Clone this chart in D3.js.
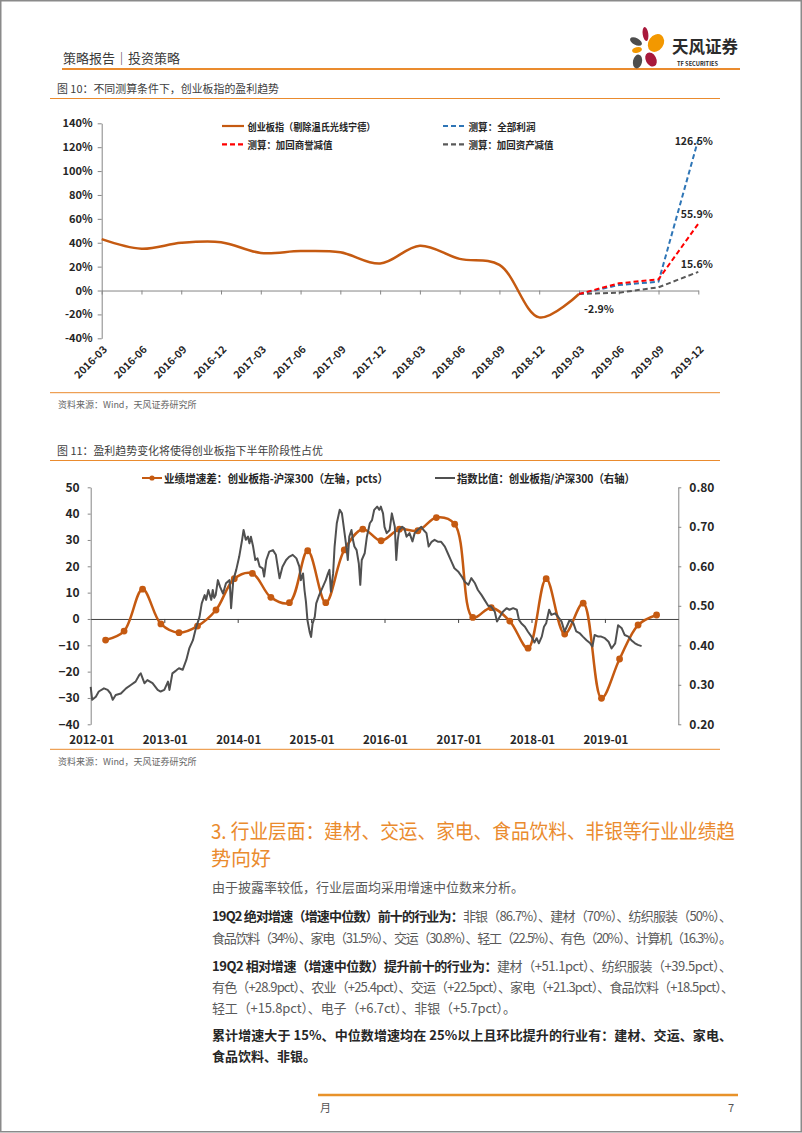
<!DOCTYPE html>
<html><head><meta charset="utf-8">
<script src="https://cdn.jsdelivr.net/npm/d3@7"></script>
<style>
body{margin:0;background:#fff;}
svg{display:block;font-family:"Noto Sans CJK SC","Noto Sans",sans-serif;}
</style></head><body>
<svg id="page" width="802" height="1133"></svg>
<script>
// ================= DATA : Figure 10 =================
const fig10Categories = ['2016-03','2016-06','2016-09','2016-12','2017-03','2017-06','2017-09','2017-12',
  '2018-03','2018-06','2018-09','2018-12','2019-03','2019-06','2019-09','2019-12'];
const fig10Actual = [43, 35, 40, 40.5, 31.5, 33, 32, 22.6, 37.5, 26.5, 21.5, -22.5, -2.9];
const fig10DashCats = ['2019-03','2019-06','2019-09','2019-12'];
const fig10FullProfit = [-2.9, 4.6, 7.4, 126.5];
const fig10Goodwill   = [-2.9, 6.0, 9.4, 55.9];
const fig10Asset      = [-2.9, -1.8, 2.7, 15.6];
const fig10YTicks = [-40,-20,0,20,40,60,80,100,120,140];
const fig10SeriesNames = ['创业板指（剔除温氏光线宁德）','测算：全部利润','测算：加回商誉减值','测算：加回资产减值'];

// ================= DATA : Figure 11 =================
const fig11Quarters = ['2012-03','2012-06','2012-09','2012-12','2013-03','2013-06','2013-09','2013-12',
  '2014-03','2014-06','2014-09','2014-12','2015-03','2015-06','2015-09','2015-12',
  '2016-03','2016-06','2016-09','2016-12','2017-03','2017-06','2017-09','2017-12',
  '2018-03','2018-06','2018-09','2018-12','2019-03','2019-06','2019-09'];
const fig11Spread = [-8.0,-4.6,11.3,-1.9,-5.2,-2.7,3.4,15.3,
  17.3,8.2,6.2,25.9,6.2,26.2,34.1,29.7,
  34.1,33.5,38.5,36.0,0.6,4.3,-0.8,-11.1,
  15.3,-5.7,6.0,-30.1,-15.2,-2.3,1.5];
// index ratio [decimal year, ratio]
const fig11Ratio = [
 [2012.00,0.295],[2012.02,0.262],[2012.07,0.270],[2012.11,0.283],[2012.18,0.291],[2012.23,0.287],[2012.27,0.278],
 [2012.30,0.262],[2012.34,0.274],[2012.41,0.278],[2012.48,0.291],[2012.55,0.300],[2012.61,0.308],[2012.66,0.325],
 [2012.68,0.329],[2012.73,0.304],[2012.77,0.312],[2012.84,0.304],[2012.91,0.287],[2012.95,0.283],[2013.00,0.287],
 [2013.05,0.308],[2013.07,0.287],[2013.11,0.329],[2013.16,0.336],[2013.20,0.342],[2013.25,0.338],[2013.30,0.363],
 [2013.34,0.392],[2013.39,0.413],[2013.43,0.443],[2013.48,0.472],[2013.51,0.506],[2013.55,0.527],[2013.57,0.515],
 [2013.60,0.540],[2013.64,0.515],[2013.66,0.540],[2013.68,0.520],[2013.70,0.527],[2013.73,0.565],[2013.76,0.548],
 [2013.80,0.531],[2013.84,0.557],[2013.89,0.565],[2013.91,0.494],[2013.94,0.565],[2013.98,0.591],[2014.02,0.624],
 [2014.06,0.667],[2014.08,0.692],[2014.11,0.667],[2014.14,0.675],[2014.16,0.658],[2014.18,0.675],[2014.21,0.650],
 [2014.24,0.616],[2014.27,0.620],[2014.30,0.599],[2014.34,0.595],[2014.36,0.574],[2014.39,0.616],[2014.43,0.637],
 [2014.48,0.641],[2014.52,0.629],[2014.57,0.570],[2014.61,0.599],[2014.66,0.616],[2014.70,0.624],[2014.75,0.629],
 [2014.80,0.620],[2014.84,0.599],[2014.86,0.565],[2014.89,0.582],[2014.91,0.540],[2014.93,0.510],[2014.95,0.464],
 [2014.98,0.434],[2015.00,0.421],[2015.02,0.455],[2015.05,0.472],[2015.07,0.506],[2015.11,0.527],[2015.16,0.548],
 [2015.20,0.565],[2015.23,0.582],[2015.25,0.591],[2015.27,0.536],[2015.30,0.582],[2015.32,0.650],[2015.35,0.709],
 [2015.39,0.743],[2015.42,0.734],[2015.45,0.692],[2015.48,0.650],[2015.50,0.616],[2015.52,0.675],[2015.55,0.692],
 [2015.57,0.667],[2015.59,0.650],[2015.62,0.641],[2015.65,0.607],[2015.67,0.553],[2015.69,0.616],[2015.73,0.633],
 [2015.76,0.675],[2015.80,0.709],[2015.83,0.717],[2015.86,0.743],[2015.90,0.751],[2015.93,0.743],[2015.95,0.751],
 [2015.98,0.734],[2016.00,0.700],[2016.03,0.684],[2016.07,0.692],[2016.10,0.734],[2016.14,0.700],[2016.16,0.616],
 [2016.18,0.667],[2016.20,0.692],[2016.24,0.700],[2016.27,0.696],[2016.30,0.675],[2016.34,0.684],[2016.38,0.663],
 [2016.41,0.684],[2016.45,0.692],[2016.50,0.700],[2016.53,0.692],[2016.57,0.684],[2016.60,0.650],[2016.64,0.662],
 [2016.68,0.667],[2016.73,0.662],[2016.77,0.662],[2016.82,0.650],[2016.86,0.633],[2016.91,0.612],[2016.95,0.595],
 [2017.00,0.587],[2017.05,0.574],[2017.09,0.561],[2017.14,0.553],[2017.18,0.570],[2017.23,0.557],[2017.27,0.540],
 [2017.32,0.527],[2017.36,0.515],[2017.41,0.500],[2017.45,0.498],[2017.50,0.485],[2017.53,0.460],[2017.57,0.473],
 [2017.61,0.485],[2017.66,0.494],[2017.70,0.490],[2017.75,0.494],[2017.80,0.490],[2017.83,0.464],[2017.86,0.456],
 [2017.91,0.447],[2017.95,0.435],[2018.00,0.422],[2018.04,0.407],[2018.07,0.418],[2018.10,0.405],[2018.14,0.422],
 [2018.17,0.447],[2018.20,0.456],[2018.24,0.490],[2018.27,0.477],[2018.32,0.481],[2018.36,0.473],[2018.41,0.460],
 [2018.45,0.435],[2018.48,0.447],[2018.52,0.464],[2018.57,0.456],[2018.61,0.435],[2018.66,0.430],[2018.70,0.422],
 [2018.75,0.413],[2018.80,0.405],[2018.83,0.397],[2018.86,0.426],[2018.91,0.422],[2018.95,0.422],[2019.00,0.418],
 [2019.05,0.409],[2019.09,0.392],[2019.14,0.405],[2019.18,0.451],[2019.23,0.443],[2019.27,0.426],[2019.32,0.422],
 [2019.36,0.413],[2019.41,0.405],[2019.45,0.401],[2019.50,0.398]
];
const fig11LeftTicks = [-40,-30,-20,-10,0,10,20,30,40,50];
const fig11RightTicks = [0.2,0.3,0.4,0.5,0.6,0.7,0.8];
const fig11XTicks = ['2012-01','2013-01','2014-01','2015-01','2016-01','2017-01','2018-01','2019-01'];
const fig11SeriesNames = ['业绩增速差：创业板指-沪深300（左轴，pcts）','指数比值：创业板指/沪深300（右轴）'];

// ================= STYLE =================
const FONT = '"Noto Sans CJK SC","Noto Sans",sans-serif';
const ACCENT = '#EA8B2E';
const AXIS = '#868686';
const TXT = '#262626';
const ORANGE = '#C55A11';
const GRAY = '#505050';

const svg = d3.select('#page');
svg.append('rect').attr('width',802).attr('height',1133).attr('fill','#fff');
svg.append('rect').attr('x',0.75).attr('y',0.75).attr('width',800.5).attr('height',1131).attr('fill','none')
  .attr('stroke','#8a8a8a').attr('stroke-width',1.5);

function hline(x1,x2,y,color,w){svg.append('line').attr('x1',x1).attr('x2',x2).attr('y1',y).attr('y2',y).attr('stroke',color).attr('stroke-width',w);}
function txt(x,y,s,size,fill,opts={}){
  const t=svg.append('text').attr('x',x).attr('y',y).attr('font-size',size).attr('fill',fill).text(s)
    .attr('font-family',FONT);
  if(opts.weight) t.attr('font-weight',opts.weight);
  if(opts.anchor) t.attr('text-anchor',opts.anchor);
  if(opts.len) t.attr('textLength',opts.len).attr('lengthAdjust','spacingAndGlyphs');
  t.attr('dominant-baseline','central');
  return t;
}

// ---------- header ----------
txt(63,57,'策略报告｜投资策略',13,'#3a3a3a');
hline(62,740,69,ACCENT,2);
// logo
const logo = svg.append('g');
const petals = [
  [645.5,34,2.8,7,-8,'#A8193C'],
  [636,41.5,6.5,3.4,28,'#4D4D4D'],
  [656,43,7.5,9.5,35,'#F39800'],
  [637,50,5,2.8,-15,'#F39800'],
  [637.5,61.5,4.5,7,12,'#4D4D4D'],
  [651,59.5,5.2,7.5,-28,'#A8193C']
];
petals.forEach(p=>logo.append('ellipse').attr('cx',p[0]).attr('cy',p[1]).attr('rx',p[2]).attr('ry',p[3])
  .attr('transform',`rotate(${p[4]},${p[0]},${p[1]})`).attr('fill',p[5]));
txt(672,45.5,'天风证券',17,'#2b2b2b',{weight:'bold',len:66});
txt(677,63.5,'TF SECURITIES',6,'#2b2b2b',{weight:'bold',len:41});

// ---------- Figure 10 caption ----------
txt(57,88,'图 10：不同测算条件下，创业板指的盈利趋势',11,'#404040',{len:222});
hline(50,720,98.5,ACCENT,1);

// ---------- Figure 10 chart ----------
const x1 = d3.scalePoint().domain(fig10Categories).range([101.7,698.3]);
const y1 = d3.scaleLinear().domain([-40,140]).range([338.3,123.3]);
const g1 = svg.append('g');
g1.append('g').attr('transform','translate(101.7,0)')
  .call(d3.axisLeft(y1).tickValues(fig10YTicks).tickSize(4).tickSizeOuter(0).tickFormat(d=>d+'%'))
  .call(g=>{g.select('.domain').attr('stroke',AXIS);g.selectAll('.tick line').attr('stroke',AXIS);
    g.selectAll('text').attr('font-size',11).attr('font-weight','bold').attr('fill',TXT).attr('font-family',FONT).attr('x',-9);});
g1.append('g').attr('transform',`translate(0,${y1(0)})`)
  .call(d3.axisBottom(x1).tickSize(4).tickSizeOuter(0).tickFormat(''))
  .call(g=>{g.select('.domain').attr('stroke',AXIS);g.selectAll('.tick line').attr('stroke',AXIS);});
fig10Categories.forEach(c=>{
  g1.append('text').attr('transform',`translate(${x1(c)+3},${347}) rotate(-45)`).attr('text-anchor','end')
    .attr('dominant-baseline','central').attr('font-size',10.5).attr('font-weight','bold').attr('fill',TXT)
    .attr('font-family',FONT).text(c);
});
const actualPts = fig10Actual.map((v,i)=>[x1(fig10Categories[i]),y1(v)]);
g1.append('path').attr('d',d3.line().curve(d3.curveCatmullRom.alpha(0.5))(actualPts))
  .attr('fill','none').attr('stroke',ORANGE).attr('stroke-width',2.5);
const dashSeries = [[fig10Asset,'#595959'],[fig10FullProfit,'#2E75B6'],[fig10Goodwill,'#FF0000']];
dashSeries.forEach(([vals,col])=>{
  g1.append('path').attr('d',d3.line()(vals.map((v,i)=>[x1(fig10DashCats[i]),y1(v)])))
    .attr('fill','none').attr('stroke',col).attr('stroke-width',2).attr('stroke-dasharray','5,3');
});
// data labels
const lab = (x,y,s)=>g1.append('text').attr('x',x).attr('y',y).attr('text-anchor','middle').attr('dominant-baseline','central')
  .attr('font-size',10.5).attr('font-weight','bold').attr('fill',TXT).attr('font-family',FONT).text(s);
const lastCat = fig10DashCats[3];
lab(x1(lastCat)-4.5, y1(fig10FullProfit[3])+1.5, fig10FullProfit[3].toFixed(1)+'%');
lab(x1(lastCat)-1.5, y1(fig10Goodwill[3])-10, fig10Goodwill[3].toFixed(1)+'%');
lab(x1(lastCat)-1.5, y1(fig10Asset[3])-8, fig10Asset[3].toFixed(1)+'%');
lab(x1(fig10DashCats[0])+20, y1(fig10Asset[0])+15, fig10Asset[0].toFixed(1)+'%');
// legend
const leg1 = [
  [222,126,ORANGE,null,fig10SeriesNames[0],128],
  [443,126,'#2E75B6','5,3',fig10SeriesNames[1],67],
  [222,144.3,'#FF0000','5,3',fig10SeriesNames[2],85],
  [443,144.3,'#595959','5,3',fig10SeriesNames[3],85]
];
leg1.forEach(([lx,ly,col,dash,name,len])=>{
  const l=g1.append('line').attr('x1',lx).attr('x2',lx+22).attr('y1',ly).attr('y2',ly).attr('stroke',col).attr('stroke-width',2.2);
  if(dash) l.attr('stroke-dasharray',dash);
  g1.append('text').attr('x',lx+25.5).attr('y',ly).attr('dominant-baseline','central').attr('font-size',10)
    .attr('font-weight','bold').attr('fill',TXT).attr('font-family',FONT).attr('textLength',len)
    .attr('lengthAdjust','spacingAndGlyphs').text(name);
});
hline(50,720,392.7,ACCENT,1);
txt(58,404,'资料来源：Wind，天风证券研究所',9,'#666');

// ---------- Figure 11 caption ----------
txt(57,450,'图 11：盈利趋势变化将使得创业板指下半年阶段性占优',11,'#404040',{len:266});
hline(50,720,460.5,ACCENT,1);

// ---------- Figure 11 chart ----------
const parseQ = s=>{const [y,m]=s.split('-').map(Number);return new Date(y,m-1,15);};
const fromDec = t=>{const y=Math.floor(t);const a=new Date(y,0,1),b=new Date(y+1,0,1);return new Date(+a+(t-y)*(b-a));};
const x2 = d3.scaleTime().domain([new Date(2012,0,1),new Date(2020,0,1)]).range([90.7,678.3]);
const yL = d3.scaleLinear().domain([-40,50]).range([724.3,487.3]);
const yR = d3.scaleLinear().domain([0.2,0.8]).range([724.3,487.3]);
const g2 = svg.append('g');
g2.append('g').attr('transform','translate(90.7,0)')
  .call(d3.axisLeft(yL).tickValues(fig11LeftTicks).tickSize(3).tickSizeOuter(0))
  .call(g=>{g.select('.domain').attr('stroke',AXIS);g.selectAll('.tick line').attr('stroke',AXIS);
    g.selectAll('text').attr('font-size',12).attr('font-weight','bold').attr('fill',TXT).attr('font-family',FONT).attr('x',-11);});
g2.append('g').attr('transform','translate(678.3,0)')
  .call(d3.axisRight(yR).tickValues(fig11RightTicks).tickSize(3).tickSizeOuter(0).tickFormat(d3.format('.2f')))
  .call(g=>{g.select('.domain').attr('stroke',AXIS);g.selectAll('.tick line').attr('stroke',AXIS);
    g.selectAll('text').attr('font-size',12).attr('font-weight','bold').attr('fill',TXT).attr('font-family',FONT).attr('x',11);});
const xTickDates = fig11XTicks.map(s=>{const [y,m]=s.split('-').map(Number);return new Date(y,m-1,1);});
g2.append('g').attr('transform',`translate(0,${yL(0)})`)
  .call(d3.axisBottom(x2).tickValues(xTickDates.slice(1)).tickSize(4).tickSizeOuter(0).tickFormat(''))
  .call(g=>{g.select('.domain').attr('stroke','#404040');g.selectAll('.tick line').attr('stroke','#404040');});
xTickDates.forEach((d,i)=>{
  g2.append('text').attr('x',x2(d)+1).attr('y',739).attr('text-anchor','middle').attr('dominant-baseline','central')
    .attr('font-size',11.5).attr('font-weight','bold').attr('fill',TXT).attr('font-family',FONT).text(fig11XTicks[i]);
});
const spreadPts = fig11Spread.map((v,i)=>[x2(parseQ(fig11Quarters[i])),yL(v)]);
g2.append('path').attr('d',d3.line().curve(d3.curveCatmullRom.alpha(0.5))(spreadPts))
  .attr('fill','none').attr('stroke',ORANGE).attr('stroke-width',2.5);
g2.selectAll('circle.m').data(spreadPts).enter().append('circle').attr('class','m')
  .attr('cx',d=>d[0]).attr('cy',d=>d[1]).attr('r',3.4).attr('fill',ORANGE);
g2.append('path').attr('d',d3.line().x(d=>x2(fromDec(d[0]))).y(d=>yR(d[1]))(fig11Ratio))
  .attr('fill','none').attr('stroke',GRAY).attr('stroke-width',2).attr('stroke-linejoin','round');
// legend
g2.append('line').attr('x1',142).attr('x2',162).attr('y1',478).attr('y2',478).attr('stroke',ORANGE).attr('stroke-width',2);
g2.append('circle').attr('cx',152).attr('cy',478).attr('r',2.6).attr('fill',ORANGE);
g2.append('text').attr('x',164).attr('y',478).attr('dominant-baseline','central').attr('font-size',11.5).attr('font-weight','bold')
  .attr('fill',TXT).attr('font-family',FONT).attr('textLength',224).attr('lengthAdjust','spacingAndGlyphs').text(fig11SeriesNames[0]);
g2.append('line').attr('x1',435).attr('x2',455).attr('y1',478).attr('y2',478).attr('stroke',GRAY).attr('stroke-width',2);
g2.append('text').attr('x',457).attr('y',478).attr('dominant-baseline','central').attr('font-size',11.5).attr('font-weight','bold')
  .attr('fill',TXT).attr('font-family',FONT).attr('textLength',178).attr('lengthAdjust','spacingAndGlyphs').text(fig11SeriesNames[1]);
hline(50,720,749.3,ACCENT,1);
txt(58,761,'资料来源：Wind，天风证券研究所',9,'#666');

// ---------- Section text ----------
txt(211,830,'3. 行业层面：建材、交运、家电、食品饮料、非银等行业业绩趋',20,ACCENT,{len:524});
txt(211,857,'势向好',20,ACCENT);
function para(y,parts,len){
  const t=svg.append('text').attr('x',212).attr('y',y).attr('font-size',13).attr('font-family',FONT).attr('dominant-baseline','central');
  parts.forEach(([s,b])=>t.append('tspan').attr('font-weight',b?'bold':'normal').attr('fill',b?'#262626':'#5a5a5a').text(s));
  if(len) t.attr('textLength',len).attr('lengthAdjust','spacing');
}
para(885.5,[['由于披露率较低，行业层面均采用增速中位数来分析。',0]]);
para(914.5,[['19Q2 绝对增速（增速中位数）前十的行业为：',1],['非银（86.7%）、建材（70%）、纺织服装（50%）、',0]],520);
para(936.5,[['食品饮料（34%）、家电（31.5%）、交运（30.8%）、轻工（22.5%）、有色（20%）、计算机（16.3%）。',0]],520);
para(965,[['19Q2 相对增速（增速中位数）提升前十的行业为：',1],['建材（+51.1pct）、纺织服装（+39.5pct）、',0]],520);
para(986,[['有色（+28.9pct）、农业（+25.4pct）、交运（+22.5pct）、家电（+21.3pct）、食品饮料（+18.5pct）、',0]],522);
para(1007,[['轻工（+15.8pct）、电子（+6.7ct）、非银（+5.7pct）。',0]],304);
para(1034,[['累计增速大于 15%、中位数增速均在 25%以上且环比提升的行业有：建材、交运、家电、',1]],520);
para(1055,[['食品饮料、非银。',1]]);

// ---------- footer ----------
hline(318,738,1095,'#E8922A',2.5);
txt(320,1106.5,'月',11,'#555');
txt(728,1106.5,'7',11,'#555');
</script>
</body></html>
